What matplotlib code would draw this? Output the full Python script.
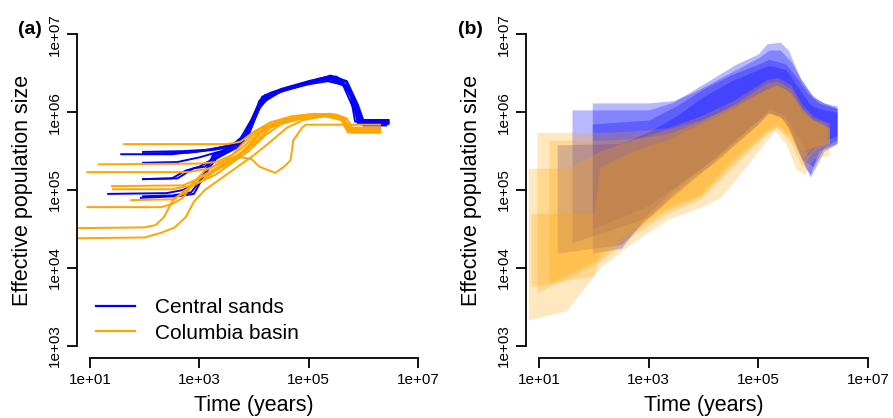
import numpy as np
import matplotlib.pyplot as plt

plt.rcParams['font.family'] = ['Liberation Sans', 'DejaVu Sans']

# ---- data (log10 time, log10 Ne) ----
x_ticks = [1e1, 1e3, 1e5, 1e7]
x_tick_labels = ['1e+01', '1e+03', '1e+05', '1e+07']
y_ticks = [1e3, 1e4, 1e5, 1e6, 1e7]
y_tick_labels = ['1e+03', '1e+04', '1e+05', '1e+06', '1e+07']
legend_labels = ['Central sands', 'Columbia basin']

# panel (a): Central sands lines
cs_t = [
    [1.57, 2.5, 3.0, 3.4, 3.7, 3.95, 4.15, 4.5, 5.0, 5.3, 5.55, 5.75, 5.85, 6.46],
    [1.97, 2.7, 3.2, 3.6, 3.9, 4.1, 4.5, 5.0, 5.4, 5.6, 5.8, 5.95, 6.46],
    [1.97, 2.6, 3.0, 3.4, 3.75, 4.0, 4.2, 4.6, 5.1, 5.4, 5.7, 5.9, 6.0, 6.46],
    [1.97, 2.5, 2.75, 3.0, 3.2, 3.5, 3.8, 4.05, 4.3, 4.8, 5.3, 5.65, 5.85, 5.95, 6.46],
    [1.33, 2.4, 2.7, 3.0, 3.2, 3.5, 3.8, 4.1, 4.4, 4.9, 5.4, 5.7, 5.9, 6.0, 6.46],
    [1.93, 2.6, 2.9, 3.1, 3.3, 3.7, 3.95, 4.15, 4.6, 5.1, 5.4, 5.75, 5.9, 6.0, 6.42],
    [1.97, 2.5, 2.85, 3.05, 3.25, 3.6, 3.9, 4.1, 4.5, 5.0, 5.35, 5.65, 5.8, 5.9, 6.46],
    [1.97, 2.8, 3.3, 3.6, 3.85, 4.05, 4.2, 4.7, 5.2, 5.5, 5.7, 5.85, 5.92, 6.46],
    [1.97, 2.6, 2.9, 3.1, 3.3, 3.6, 3.9, 4.1, 4.3, 4.8, 5.3, 5.6, 5.85, 5.92, 6.46],
]
cs_n = [
    [5.46, 5.46, 5.5, 5.55, 5.6, 5.9, 6.2, 6.3, 6.4, 6.45, 6.42, 6.3, 5.88, 5.88],
    [5.49, 5.5, 5.52, 5.58, 5.75, 6.15, 6.28, 6.38, 6.47, 6.42, 6.2, 5.9, 5.9],
    [5.35, 5.36, 5.42, 5.5, 5.6, 5.9, 6.2, 6.3, 6.4, 6.44, 6.35, 6.05, 5.87, 5.87],
    [5.14, 5.15, 5.25, 5.3, 5.38, 5.5, 5.65, 6.05, 6.25, 6.35, 6.42, 6.35, 6.1, 5.85, 5.85],
    [4.95, 4.96, 5.0, 5.1, 5.35, 5.5, 5.62, 6.1, 6.25, 6.35, 6.47, 6.4, 6.1, 5.9, 5.88],
    [4.9, 4.92, 4.95, 5.2, 5.4, 5.55, 5.8, 6.15, 6.3, 6.4, 6.43, 6.3, 5.95, 5.83, 5.83],
    [4.92, 4.93, 4.97, 5.15, 5.45, 5.55, 5.7, 6.1, 6.27, 6.36, 6.4, 6.35, 6.2, 5.86, 5.86],
    [5.47, 5.48, 5.52, 5.56, 5.7, 6.0, 6.22, 6.33, 6.43, 6.46, 6.38, 6.15, 5.9, 5.9],
    [5.14, 5.15, 5.28, 5.3, 5.45, 5.55, 5.72, 6.05, 6.22, 6.33, 6.44, 6.4, 6.0, 5.88, 5.88],
]

# panel (a): Columbia basin lines
cb_t = [
    [1.62, 3.5, 3.75, 4.0, 4.3, 4.7, 5.1, 5.5, 5.7, 5.8, 6.31],
    [1.16, 3.0, 3.3, 3.6, 3.8, 4.1, 4.5, 5.0, 5.4, 5.65, 5.75, 6.31],
    [0.95, 2.8, 3.2, 3.5, 3.8, 4.1, 4.4, 4.9, 5.3, 5.6, 5.72, 6.31],
    [1.42, 2.5, 2.8, 3.0, 3.2, 3.5, 3.8, 4.1, 4.4, 4.9, 5.3, 5.6, 5.72, 6.31],
    [1.75, 2.5, 2.7, 2.9, 3.1, 3.4, 3.7, 3.9, 4.2, 4.6, 5.0, 5.5, 5.7, 5.78, 6.31],
    [0.95, 2.3, 2.5, 2.7, 2.9, 3.1, 3.4, 3.7, 4.0, 4.3, 4.7, 5.2, 5.6, 5.75, 6.31],
    [0.8, 2.0, 2.2, 2.35, 2.5, 2.7, 3.0, 3.3, 3.6, 3.9, 4.2, 4.5, 5.0, 5.5, 5.7, 5.78, 6.31],
    [0.77, 2.0, 2.3, 2.55, 2.75, 2.9, 3.1, 3.4, 3.7, 4.0, 4.3, 4.6, 4.9, 5.3, 5.6, 5.72, 6.31],
    [1.4, 2.7, 3.0, 3.3, 3.55, 3.75, 3.95, 4.1, 4.39, 4.55, 4.67, 4.72, 4.89, 4.95, 6.31],
]
cb_n = [
    [5.59, 5.59, 5.62, 5.75, 5.87, 5.95, 5.98, 5.97, 5.92, 5.8, 5.8],
    [5.33, 5.34, 5.36, 5.45, 5.6, 5.78, 5.9, 5.97, 5.98, 5.92, 5.78, 5.78],
    [5.23, 5.23, 5.28, 5.4, 5.55, 5.75, 5.85, 5.93, 5.97, 5.93, 5.76, 5.76],
    [5.01, 5.01, 5.05, 5.1, 5.2, 5.35, 5.5, 5.72, 5.85, 5.93, 5.95, 5.9, 5.74, 5.74],
    [4.87, 4.88, 4.95, 5.1, 5.25, 5.35, 5.45, 5.55, 5.8, 5.9, 5.95, 5.96, 5.85, 5.75, 5.75],
    [4.78, 4.78, 4.82, 4.9, 5.1, 5.2, 5.32, 5.42, 5.6, 5.8, 5.9, 5.96, 5.93, 5.8, 5.8],
    [4.51, 4.52, 4.55, 4.65, 4.85, 4.98, 5.1, 5.2, 5.35, 5.5, 5.7, 5.85, 5.94, 5.95, 5.85, 5.74, 5.74],
    [4.38, 4.39, 4.45, 4.52, 4.65, 4.85, 5.0, 5.15, 5.3, 5.45, 5.62, 5.8, 5.9, 5.95, 5.92, 5.78, 5.78],
    [5.05, 5.06, 5.15, 5.25, 5.35, 5.42, 5.4, 5.3, 5.22, 5.3, 5.38, 5.64, 5.81, 5.84, 5.84],
]

# panel (b): bootstrap ranges, Central sands
cs_band_t = [
    [1.33, 2.5, 3.0, 3.5, 4.0, 4.5, 5.0, 5.2, 5.5, 5.7, 5.85, 5.95, 6.1, 6.44],
    [1.6, 3.0, 3.45, 3.8, 4.2, 4.6, 5.0, 5.16, 5.4, 5.55, 5.76, 5.95, 6.05, 6.2, 6.44],
    [1.97, 2.5, 3.0, 3.45, 3.8, 4.2, 4.6, 5.0, 5.2, 5.4, 5.6, 5.8, 6.0, 6.2, 6.44],
    [1.97, 3.0, 3.5, 4.0, 4.5, 5.0, 5.2, 5.5, 5.7, 5.9, 6.1, 6.44],
]
cs_band_lo = [
    [4.19, 4.3, 4.65, 4.95, 5.25, 5.55, 5.85, 5.99, 5.9, 5.55, 5.3, 5.2, 5.5, 5.6],
    [4.32, 4.65, 4.95, 5.15, 5.35, 5.6, 5.85, 5.99, 5.95, 5.8, 5.45, 5.17, 5.3, 5.5, 5.6],
    [4.19, 4.25, 4.7, 5.0, 5.2, 5.4, 5.65, 5.9, 6.0, 5.95, 5.75, 5.4, 5.3, 5.55, 5.65],
    [4.5, 4.8, 5.05, 5.3, 5.6, 5.9, 6.05, 5.95, 5.7, 5.45, 5.6, 5.7],
]
cs_band_hi = [
    [5.58, 5.6, 5.75, 5.95, 6.2, 6.4, 6.55, 6.6, 6.55, 6.35, 6.2, 6.1, 6.05, 6.0],
    [6.03, 6.03, 6.13, 6.28, 6.45, 6.62, 6.75, 6.88, 6.9, 6.8, 6.45, 6.25, 6.18, 6.12, 6.05],
    [6.12, 6.12, 6.12, 6.15, 6.25, 6.4, 6.55, 6.7, 6.8, 6.8, 6.65, 6.4, 6.2, 6.12, 6.08],
    [5.85, 5.9, 6.08, 6.3, 6.48, 6.62, 6.68, 6.62, 6.45, 6.25, 6.12, 6.05],
]

# panel (b): bootstrap ranges, Columbia basin
cb_band_t = [
    [0.8, 1.5, 2.11, 2.72, 3.34, 3.94, 4.3, 4.6, 5.0, 5.3, 5.5, 5.7, 5.85, 6.0, 6.3],
    [0.96, 2.11, 2.72, 3.34, 3.94, 4.54, 5.16, 5.35, 5.6, 5.8, 6.0, 6.3],
    [1.18, 2.11, 2.72, 3.34, 3.94, 4.54, 5.16, 5.35, 5.6, 5.8, 6.0, 6.25],
    [0.85, 2.0, 2.11, 2.72, 3.34, 3.94, 4.54, 5.16, 5.35, 5.6, 5.8, 6.0, 6.3],
]
cb_band_lo = [
    [3.33, 3.45, 4.0, 4.33, 4.62, 4.78, 4.9, 5.15, 5.5, 5.76, 5.6, 5.26, 5.2, 5.4, 5.45],
    [3.68, 4.08, 4.42, 4.7, 4.88, 5.3, 5.73, 5.8, 5.6, 5.3, 5.5, 5.6],
    [3.8, 4.12, 4.46, 4.75, 4.92, 5.35, 5.75, 5.82, 5.65, 5.4, 5.55, 5.65],
    [3.76, 3.9, 4.18, 4.52, 4.78, 4.95, 5.4, 5.78, 5.85, 5.7, 5.5, 5.55, 5.6],
]
cb_band_hi = [
    [5.28, 5.28, 5.5, 5.65, 5.78, 5.9, 6.0, 6.1, 6.25, 6.35, 6.3, 6.15, 6.0, 5.9, 5.8],
    [5.74, 5.74, 5.76, 5.8, 5.95, 6.15, 6.42, 6.45, 6.35, 6.1, 5.95, 5.86],
    [5.64, 5.64, 5.66, 5.72, 5.88, 6.1, 6.38, 6.4, 6.3, 6.05, 5.92, 5.85],
    [4.7, 4.7, 5.3, 5.5, 5.65, 5.85, 6.05, 6.3, 6.35, 6.25, 6.0, 5.9, 5.8],
]

BLUE = '#0000FF'
ORANGE = '#FFA500'


def style_axis(ax):
    ax.set_xscale('log')
    ax.set_yscale('log')
    ax.set_xlim(10 ** 0.76, 10 ** 7.24)
    ax.set_ylim(10 ** 2.84, 10 ** 7.16)
    for s in ['top', 'right']:
        ax.spines[s].set_visible(False)
    ax.spines['left'].set_bounds(1e3, 1e7)
    ax.spines['bottom'].set_bounds(1e1, 1e7)
    for s in ['left', 'bottom']:
        ax.spines[s].set_linewidth(1.3)
    ax.set_xticks(x_ticks)
    ax.set_xticklabels(x_tick_labels)
    ax.set_yticks(y_ticks)
    ax.set_yticklabels(y_tick_labels, rotation=90, va='center')
    ax.minorticks_off()
    ax.tick_params(axis='both', labelsize=11, length=7, width=1.3, pad=4)
    ax.set_xlabel('Time (years)', fontsize=15.5)
    ax.set_ylabel('Effective population size', fontsize=15.5)
    ax.xaxis.set_label_coords(0.5, -0.11)
    ax.yaxis.set_label_coords(-0.125, 0.5)


fig = plt.figure(figsize=(8.93, 4.18), dpi=100)
ax1 = fig.add_axes([0.0862, 0.1435, 0.3964, 0.8038])
ax2 = fig.add_axes([0.589, 0.1435, 0.3975, 0.8038])

# (a)
for t, n in zip(cs_t, cs_n):
    ax1.plot(10 ** np.array(t), 10 ** np.array(n), color=BLUE, lw=1.4)
for t, n in zip(cb_t, cb_n):
    ax1.plot(10 ** np.array(t), 10 ** np.array(n), color=ORANGE, lw=1.4)
h1, = ax1.plot([], [], color=BLUE, lw=1.6)
h2, = ax1.plot([], [], color=ORANGE, lw=1.6)
ax1.legend([h1, h2], legend_labels, loc='lower left', bbox_to_anchor=(0.0, -0.01),
           frameon=False, fontsize=15, handlelength=1.9, handletextpad=0.95,
           labelspacing=0.3)
style_axis(ax1)

# (b)
for t, lo, hi in zip(cs_band_t, cs_band_lo, cs_band_hi):
    ax2.fill_between(10 ** np.array(t), 10 ** np.array(lo), 10 ** np.array(hi),
                     color=BLUE, alpha=0.28, lw=0)
for t, lo, hi in zip(cb_band_t, cb_band_lo, cb_band_hi):
    ax2.fill_between(10 ** np.array(t), 10 ** np.array(lo), 10 ** np.array(hi),
                     color=ORANGE, alpha=0.25, lw=0)
style_axis(ax2)

fig.text(30 / 893, 1 - 29 / 418, '(a)', ha='center', va='center', fontsize=14, weight='bold')
fig.text(470 / 893, 1 - 29 / 418, '(b)', ha='center', va='center', fontsize=14, weight='bold')

fig.savefig('out.png', dpi=100)
